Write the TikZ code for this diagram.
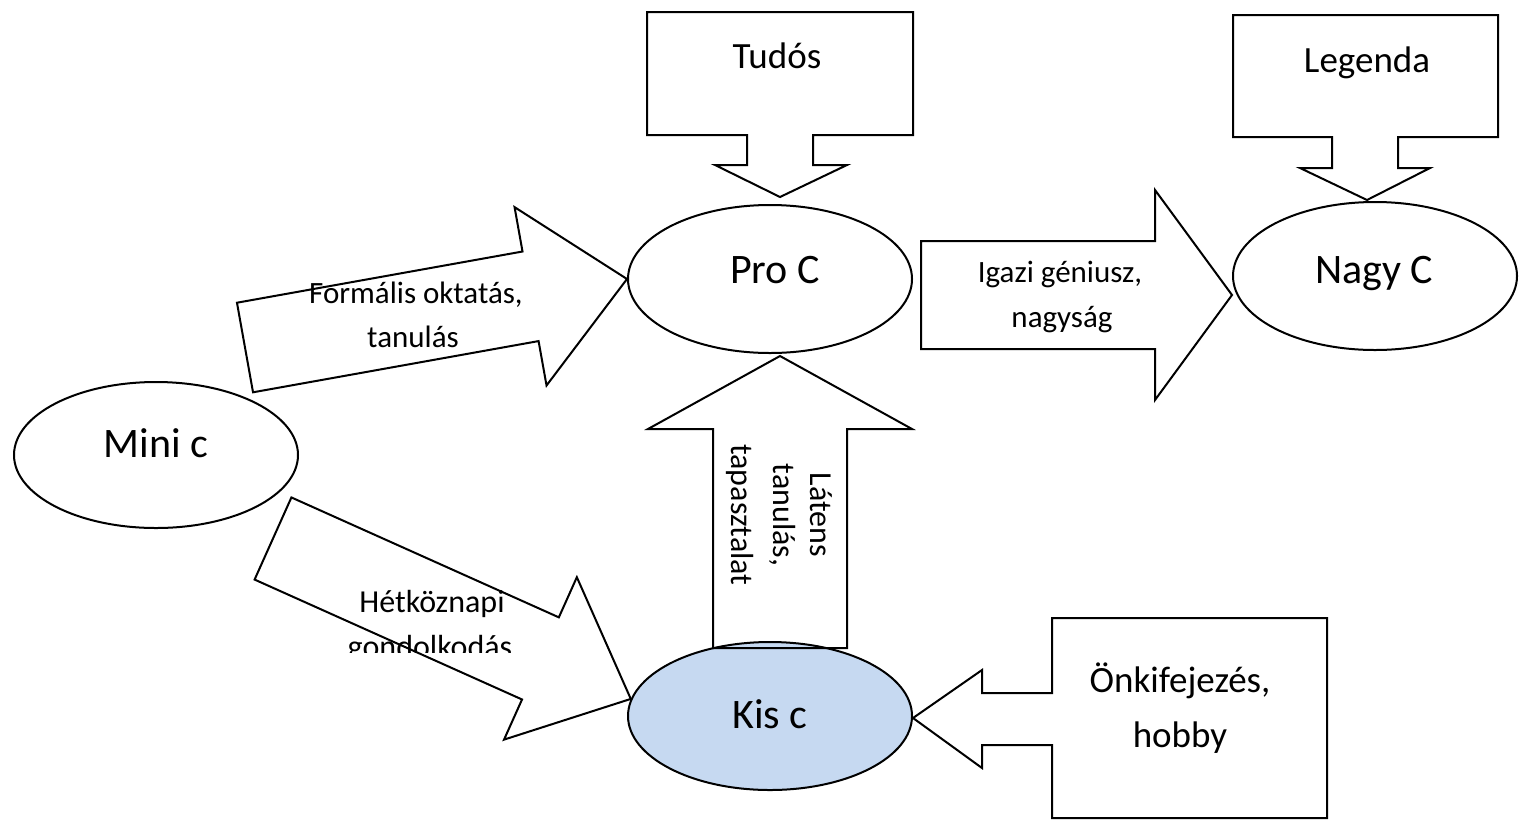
\documentclass[tikz,border=0pt]{standalone}
\usepackage{fontspec}
\setmainfont{Carlito}
\usetikzlibrary{shapes.geometric,calc}
\definecolor{kisblue}{RGB}{198,217,241}
\tikzset{
  ell/.style={ellipse, draw=black, line width=1pt, minimum width=142pt, minimum height=74pt, inner sep=0pt},
  blk/.style={draw=black, line width=1pt, line join=miter},
  callout/.style={draw=black, line width=1pt, line join=miter},
  bigtxt/.style={font=\fontsize{21}{25}\selectfont, anchor=base, inner sep=0pt},
  midtxt/.style={font=\fontsize{18.5}{22}\selectfont, anchor=base, inner sep=0pt},
  smalltxt/.style={font=\fontsize{15.5}{19}\selectfont, anchor=base, inner sep=0pt},
}
% block arrow: #1 tail centre, #2 tip, #3 body half width, #4 head half width, #5 head length
\newcommand{\blockarrow}[5]{%
  \coordinate (ba-b) at ($(#2)!#5!(#1)$);
  \draw[blk] ($(#1)!#3!90:(#2)$) -- ($(ba-b)!#3!90:(#2)$) -- ($(ba-b)!#4!90:(#2)$) -- (#2)
    -- ($(ba-b)!#4!-90:(#2)$) -- ($(ba-b)!#3!-90:(#2)$) -- ($(#1)!#3!-90:(#2)$) -- cycle;}
\begin{document}
\begin{tikzpicture}[x=0.5pt,y=-0.5pt]
\useasboundingbox (0,0) rectangle (1519,820);

% ellipses
\node[ell] (mini) at (156,455) [minimum height=73pt] {};
\node[ell] (proc) at (770,279) {};
\node[ell] (nagy) at (1375,276) {};
\node[ell, fill=kisblue] (kis) at (770,716) {};

% block arrows
\coordinate (t1) at (245,347.5);
\blockarrow{t1}{proc.west}{22.75pt}{45.3pt}{49pt}
\coordinate (t2) at (273,538.5);
\blockarrow{t2}{kis.173}{22.5pt}{44.5pt}{49.5pt}
\coordinate (t3) at (921,295);
\coordinate (h3) at ($(nagy.west)+(0,19)$);
\blockarrow{t3}{h3}{27pt}{52.5pt}{38.5pt}
\coordinate (t4) at (780,648);
\coordinate (h4) at ($(proc.south)+(10,2)$);
\blockarrow{t4}{h4}{33.5pt}{66pt}{36.5pt}

% callouts
\draw[callout] (647,12) -- (913,12) -- (913,135) -- (813,135) -- (813,165) -- (847,165)
  -- (780,197) -- (715,165) -- (747,165) -- (747,135) -- (647,135) -- cycle;
\draw[callout] (1233,15) -- (1498,15) -- (1498,137) -- (1398,137) -- (1398,168) -- (1430,168)
  -- (1367,200) -- (1300,168) -- (1332,168) -- (1332,137) -- (1233,137) -- cycle;
\draw[callout] (1052,618) -- (1327,618) -- (1327,818) -- (1052,818) -- (1052,745) -- (982,745)
  -- (982,768) -- (913,718) -- (982,670) -- (982,693) -- (1052,693) -- cycle;

% ellipse labels
\node[bigtxt] (minitxt) at (156,457) {Mini c};
\node[bigtxt] (proctxt) at (775,283) {Pro C};
\node[bigtxt] (nagytxt) at (1374,283) {Nagy C};
\node[bigtxt] (kistxt) at (770,728) {Kis c};

% callout labels
\node[midtxt] (tudos) at (777,68) {Tudós};
\node[midtxt] (legenda) at (1367,72) {Legenda};
\node[midtxt] (onki1) at (1180,692) {Önkifejezés,};
\node[midtxt] (onki2) at (1180,747) {hobby};

% arrow labels
\node[smalltxt] (form1) at (416,303) {Formális oktatás,};
\node[smalltxt] (form2) at (413,347) {tanulás};
\node[smalltxt] (igazi1) at (1060,282) {Igazi géniusz,};
\node[smalltxt] (igazi2) at (1062,327) {nagyság};
\node[smalltxt, font=\fontsize{16}{19}\selectfont] (het1) at (432,612) {Hétköznapi};
\begin{scope}
  \clip (300,600) rectangle (600,652);
  \node[smalltxt, font=\fontsize{16}{19}\selectfont] (het2) at (430,657) {gondolkodás};
\end{scope}
\node[smalltxt, font=\fontsize{16}{19}\selectfont, rotate=-90] (lat1) at (810,515) {Látens};
\node[smalltxt, font=\fontsize{16}{19}\selectfont, rotate=-90] (lat2) at (773,515) {tanulás,};
\node[smalltxt, font=\fontsize{16}{19}\selectfont, rotate=-90] (lat3) at (731,515) {tapasztalat};
\end{tikzpicture}
\end{document}
